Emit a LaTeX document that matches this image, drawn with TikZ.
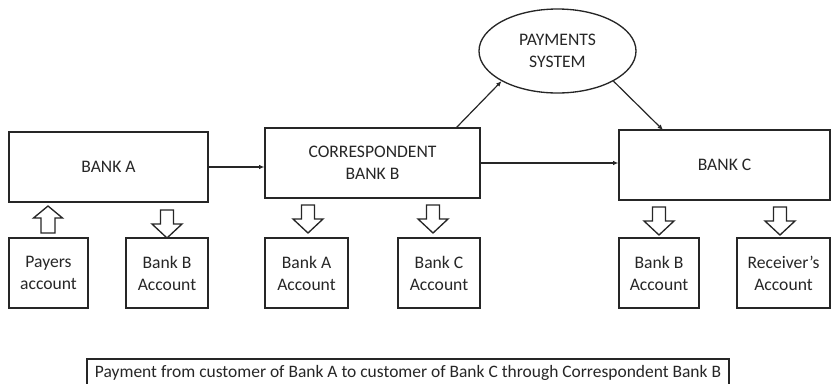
\documentclass[tikz,border=0pt]{standalone}
\usepackage{fontspec}
\setmainfont{Carlito}
\usetikzlibrary{arrows.meta,shapes.geometric}
\definecolor{ink}{HTML}{262626}
\begin{document}
\begin{tikzpicture}[x=0.75pt,y=-0.75pt,
  box/.style={draw=ink,line width=1pt,text=ink,font=\fontsize{13.2}{16.5}\selectfont,align=center,inner sep=0pt},
  conn/.style={draw=ink,line width=0.9pt,-{Latex[length=4pt,width=3.5pt]}},
  blk/.style={draw=ink,line width=1pt,fill=white},
  blockdown/.pic={\path[blk] (-6.5,0) -- (6.5,0) -- (6.5,14) -- (15,14) -- (0,28) -- (-15,14) -- (-6.5,14) -- cycle;},
  blockup/.pic={\path[blk] (-7,0) -- (7,0) -- (7,-15) -- (14.5,-15) -- (0,-27) -- (-14.5,-15) -- (-7,-15) -- cycle;}]
\useasboundingbox (0,0) rectangle (831,383);
% big boxes
\node[box,minimum width=199*0.75pt,minimum height=70*0.75pt] (bankA) at (108.5,167) {BANK A};
\node[box,minimum width=215*0.75pt,minimum height=70*0.75pt] (corrB) at (372.5,163) {CORRESPONDENT\\BANK B};
\node[box,minimum width=211*0.75pt,minimum height=70*0.75pt] (bankC) at (724.5,165) {BANK C};
\node[box,ellipse,minimum width=157*0.75pt,minimum height=84*0.75pt] (pay) at (557.5,51) {PAYMENTS\\SYSTEM};
% small boxes
\node[box,minimum width=79*0.75pt,minimum height=70*0.75pt] (payers) at (48.5,273) {Payers\\account};
\node[box,minimum width=82*0.75pt,minimum height=70*0.75pt] (bbacc) at (167,273) {Bank B\\Account};
\node[box,minimum width=83*0.75pt,minimum height=70*0.75pt] (baacc) at (306.5,273) {Bank A\\Account};
\node[box,minimum width=82*0.75pt,minimum height=70*0.75pt] (bcacc) at (439,273) {Bank C\\Account};
\node[box,minimum width=80*0.75pt,minimum height=70*0.75pt] (bbacc2) at (659,273) {Bank B\\Account};
\node[box,minimum width=93*0.75pt,minimum height=70*0.75pt] (recv) at (783.5,273) {Receiver’s\\Account};
% caption
\node[box,font=\fontsize{13.1}{15}\selectfont,minimum width=642*0.75pt,minimum height=28*0.75pt] (cap) at (408,373) {Payment from customer of Bank A to customer of Bank C through Correspondent Bank B};
% connectors
\draw[conn] (bankA.east) -- (corrB.west |- bankA.east);
\draw[conn] (corrB.east) -- (bankC.west |- corrB.east);
\coordinate (bout) at (456,128);
\draw[conn] (bout) -- (pay.south west);
\draw[conn] (pay.south east) -- (663,130);
% block arrows
\pic at (48,233) {blockup};
\pic at (167,210) {blockdown};
\pic at (308,205) {blockdown};
\pic at (433,205) {blockdown};
\pic at (659,207) {blockdown};
\pic at (780,207) {blockdown};
\end{tikzpicture}
\end{document}
